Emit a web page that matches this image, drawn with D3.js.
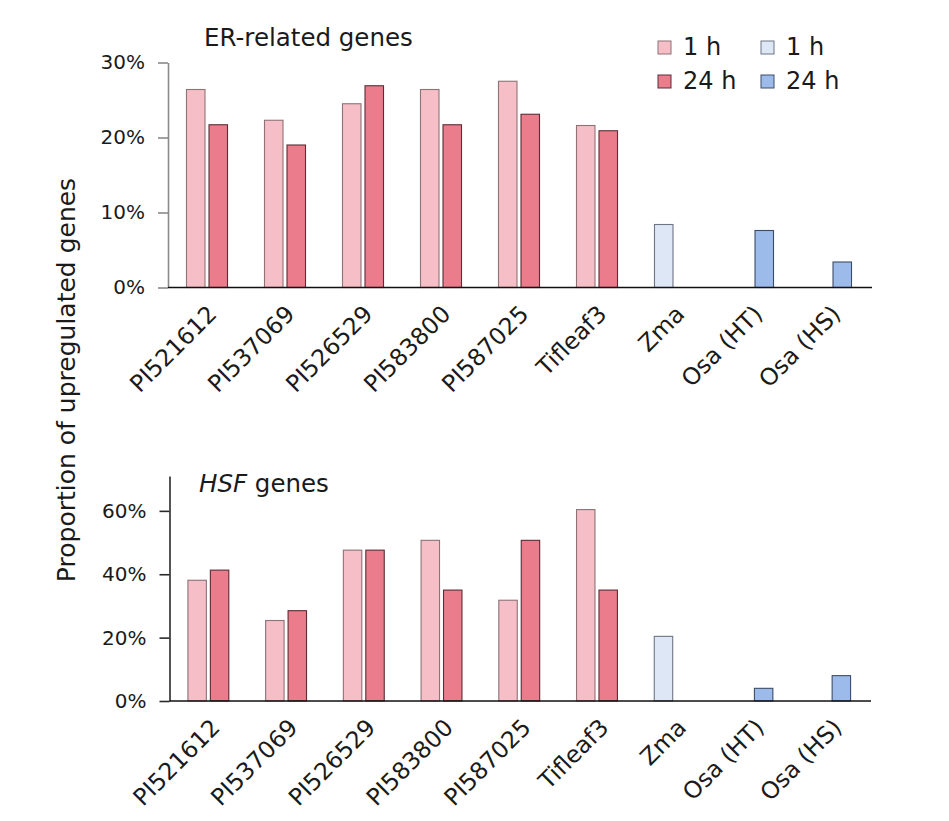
<!DOCTYPE html>
<html>
<head>
<meta charset="utf-8">
<script src="https://cdn.jsdelivr.net/npm/d3@7"></script>
<style>
  body { margin: 0; background: #fff; }
  text { font-family: "DejaVu Sans", sans-serif; fill: #1a1a1a; }
</style>
</head>
<body>
<div id="chart"></div>
<script>
// groups along the x axis
const groups = ["PI521612", "PI537069", "PI526529", "PI583800", "PI587025", "Tifleaf3", "Zma", "Osa (HT)", "Osa (HS)"];
// which palette each group uses (sorghum lines red, other species blue)
const groupPalette = ["red", "red", "red", "red", "red", "red", "blue", "blue", "blue"];
const times = ["1 h", "24 h"];

// ER-related genes, % upregulated
const erH1 = [26.4, 22.3, 24.5, 26.4, 27.5, 21.6, 8.4, null, null];
const erH24 = [21.7, 19.0, 26.9, 21.7, 23.1, 20.9, null, 7.6, 3.4];

// HSF genes, % upregulated
const hsfH1 = [38.1, 25.4, 47.6, 50.7, 31.8, 60.4, 20.4, null, null];
const hsfH24 = [41.3, 28.5, 47.6, 35.0, 50.7, 35.0, null, 4.0, 8.0];

const erTicks = [0, 10, 20, 30];
const hsfTicks = [0, 20, 40, 60];

const fills = {
  red: { "1 h": "#f6bec6", "24 h": "#eb7c8c" },
  blue: { "1 h": "#dde7f6", "24 h": "#9cbbea" }
};
const strokes = {
  red: { "1 h": "#8d7276", "24 h": "#5b2d35" },
  blue: { "1 h": "#6f7585", "24 h": "#3e4c66" }
};

const width = 949, height = 821;
const svg = d3.select("#chart").append("svg")
  .attr("width", width)
  .attr("height", height);

function drawPanel(cfg) {
  const x0 = d3.scaleBand()
    .domain(groups)
    .range(cfg.xRange)
    .paddingInner(0.474)
    .paddingOuter(0.237);

  const x1 = d3.scaleBand()
    .domain(times)
    .range([0, x0.bandwidth()])
    .paddingInner(0.178);

  const y = d3.scaleLinear()
    .domain(cfg.yDomain)
    .range(cfg.yRange);

  // flatten to one row per bar
  let rows = [];
  groups.forEach((g, i) => {
    if (cfg.h1[i] != null) rows.push({ g: g, t: "1 h", v: cfg.h1[i], pal: groupPalette[i] });
    if (cfg.h24[i] != null) rows.push({ g: g, t: "24 h", v: cfg.h24[i], pal: groupPalette[i] });
  });

  svg.append("g")
    .selectAll("rect")
    .data(rows)
    .enter()
    .append("rect")
    .attr("x", d => x0(d.g) + x1(d.t))
    .attr("y", d => y(d.v))
    .attr("width", x1.bandwidth())
    .attr("height", d => y(0) - y(d.v))
    .attr("fill", d => fills[d.pal][d.t])
    .attr("stroke", d => strokes[d.pal][d.t])
    .attr("stroke-width", 1.1);

  // y axis
  const yAxis = svg.append("g")
    .attr("transform", `translate(${cfg.xRange[0]},0)`)
    .call(d3.axisLeft(y).tickValues(cfg.ticks).tickFormat(d => d + "%").tickSize(10).tickPadding(13).tickSizeOuter(0));
  yAxis.select(".domain").attr("stroke", cfg.axisColor).attr("stroke-width", 1.6);
  yAxis.selectAll(".tick line").attr("stroke", cfg.axisColor).attr("stroke-width", 1.6);
  yAxis.selectAll(".tick text")
    .attr("font-size", "20px")
    .style("font-family", "'DejaVu Sans', sans-serif")
    .attr("fill", "#1a1a1a");

  // x axis (baseline + rotated labels)
  const xAxis = svg.append("g")
    .attr("transform", `translate(0,${y(0)})`)
    .call(d3.axisBottom(x0).tickSize(0).tickSizeOuter(0));
  xAxis.select(".domain")
    .attr("d", `M${cfg.xRange[0]},0H${cfg.xRange[1] + 2}`)
    .attr("stroke", "#111")
    .attr("stroke-width", 1.6);
  xAxis.selectAll(".tick text")
    .attr("font-size", "23.5px")
    .style("font-family", "'DejaVu Sans', sans-serif")
    .attr("fill", "#1a1a1a")
    .style("text-anchor", "end")
    .attr("x", 0)
    .attr("y", 0)
    .attr("dy", 0)
    .attr("transform", `translate(${cfg.labelDx},${cfg.labelDy}) rotate(-45)`);

  // panel title
  const title = svg.append("text")
    .attr("x", cfg.titleX)
    .attr("y", cfg.titleY)
    .attr("font-size", "24.5px");
  if (cfg.italic) {
    title.append("tspan").attr("font-style", "italic").text(cfg.italic);
    title.append("tspan").text(" " + cfg.title);
  } else {
    title.text(cfg.title);
  }
}

drawPanel({
  h1: erH1, h24: erH24, ticks: erTicks,
  xRange: [168, 870], yDomain: [0, 30], yRange: [287.5, 62.5],
  axisColor: "#8a8a8a",
  labelDx: 11, labelDy: 28,
  title: "ER-related genes", titleX: 204, titleY: 46
});

drawPanel({
  h1: hsfH1, h24: hsfH24, ticks: hsfTicks,
  xRange: [169.5, 869], yDomain: [0, 71], yRange: [701, 476],
  axisColor: "#2a2a2a",
  labelDx: 13, labelDy: 28,
  italic: "HSF", title: "genes", titleX: 199, titleY: 492
});

// shared y axis label
svg.append("text")
  .attr("transform", "translate(75,380) rotate(-90)")
  .attr("text-anchor", "middle")
  .attr("font-size", "25px")
  .text("Proportion of upregulated genes");

// legend: two columns (red / blue), two rows (1 h / 24 h)
const legendCols = [{ pal: "red", x: 658 }, { pal: "blue", x: 761 }];
const legendRows = [{ t: "1 h", y: 41 }, { t: "24 h", y: 75 }];
legendCols.forEach(c => {
  legendRows.forEach(r => {
    svg.append("rect")
      .attr("x", c.x)
      .attr("y", r.y)
      .attr("width", 13)
      .attr("height", 13)
      .attr("fill", fills[c.pal][r.t])
      .attr("stroke", strokes[c.pal][r.t])
      .attr("stroke-width", 1);
    svg.append("text")
      .attr("x", c.x + 25)
      .attr("y", r.y + 14)
      .attr("font-size", "24px")
      .text(r.t);
  });
});
</script>
</body>
</html>
